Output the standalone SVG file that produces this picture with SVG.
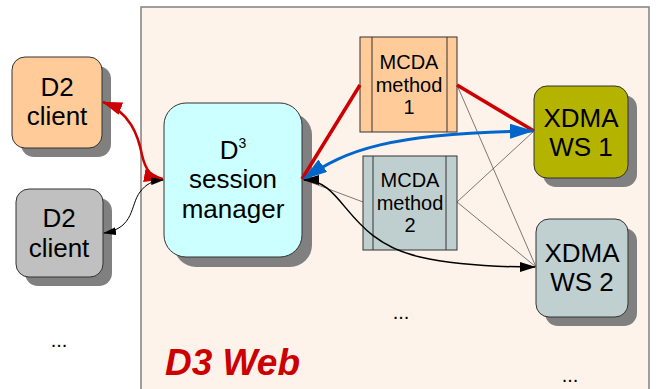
<svg xmlns="http://www.w3.org/2000/svg" width="667" height="389" viewBox="0 0 667 389">
<defs>
<style>
text{font-family:"Liberation Sans",Arial,sans-serif;fill:#000}
.t{font-size:26px;text-anchor:middle}
.m{font-size:20px;text-anchor:middle}
.shadow{fill:#808080;stroke:none}
.box{stroke:#333;stroke-width:1}
.thin{fill:none;stroke:#444;stroke-width:0.7}
</style>
<marker id="ar" viewBox="0 0 20 13" refX="19" refY="6.5" markerWidth="20" markerHeight="13" orient="auto-start-reverse" markerUnits="userSpaceOnUse"><path d="M0,0 L20,6.5 L0,13 z" fill="#cc0000"/></marker>
<marker id="ab" viewBox="0 0 24 15" refX="23" refY="7.5" markerWidth="24" markerHeight="15" orient="auto-start-reverse" markerUnits="userSpaceOnUse"><path d="M0,0 L24,7.5 L0,15 z" fill="#0066cc"/></marker>
<marker id="ak" viewBox="0 0 13 8" refX="12" refY="4" markerWidth="13" markerHeight="8" orient="auto-start-reverse" markerUnits="userSpaceOnUse"><path d="M0,0 L13,4 L0,8 z" fill="#000"/></marker>
<marker id="ak2" viewBox="0 0 16 10" refX="15" refY="5" markerWidth="16" markerHeight="10" orient="auto-start-reverse" markerUnits="userSpaceOnUse"><path d="M0,0 L16,5 L0,10 z" fill="#000"/></marker>
</defs>
<rect x="0" y="0" width="667" height="389" fill="#fff"/>
<g id="d3web">
<rect x="141" y="7" width="508" height="390" fill="#fef3ea" stroke="#808080" stroke-width="1.5"/>
<text x="165" y="375" style="font-size:37px;font-weight:bold;font-style:italic;fill:#cc0000">D3 Web</text>
</g>
<g id="d2client1">
<rect class="shadow" x="21" y="66" width="90" height="91" rx="13"/>
<rect class="box" x="12" y="57" width="90" height="91" rx="13" fill="#ffcc99"/>
<text class="t" x="57" y="96">D2</text>
<text class="t" x="57" y="125">client</text>
</g>
<g id="d2client2">
<rect class="shadow" x="25" y="198" width="87" height="88" rx="13"/>
<rect class="box" x="16" y="189" width="87" height="88" rx="13" fill="#c0c0c0"/>
<text class="t" x="59" y="227">D2</text>
<text class="t" x="59" y="257">client</text>
</g>
<g id="sessionmanager">
<rect class="shadow" x="174" y="113" width="138" height="154" rx="22"/>
<rect class="box" x="164" y="103" width="138" height="154" rx="22" fill="#ccffff"/>
<text class="t" x="233" y="159">D<tspan dy="-11" style="font-size:14px">3</tspan></text>
<text class="t" x="233" y="188">session</text>
<text class="t" x="233" y="218">manager</text>
</g>
<g id="mcda1">
<rect class="box" x="360" y="37" width="97" height="95" fill="#ffcc99"/>
<line class="box" x1="372" y1="37" x2="372" y2="132"/>
<line class="box" x1="447" y1="37" x2="447" y2="132"/>
<text class="m" x="409" y="69">MCDA</text>
<text class="m" x="409" y="92">method</text>
<text class="m" x="409" y="114">1</text>
</g>
<g id="mcda2">
<rect class="box" x="363" y="156" width="94" height="94" fill="#bfcfcf"/>
<line class="box" x1="373" y1="156" x2="373" y2="250"/>
<line class="box" x1="446" y1="156" x2="446" y2="250"/>
<text class="m" x="410" y="187">MCDA</text>
<text class="m" x="410" y="210">method</text>
<text class="m" x="410" y="232">2</text>
</g>
<g id="xdma1">
<rect class="shadow" x="543" y="95" width="94" height="92" rx="13"/>
<rect class="box" x="534" y="86" width="94" height="92" rx="13" fill="#b3b300"/>
<text class="t" x="581" y="127">XDMA</text>
<text class="t" x="581" y="156">WS 1</text>
</g>
<g id="xdma2">
<rect class="shadow" x="545" y="228" width="92" height="98" rx="13"/>
<rect class="box" x="536" y="219" width="92" height="98" rx="13" fill="#c0cfd0"/>
<text class="t" x="582" y="262">XDMA</text>
<text class="t" x="582" y="291">WS 2</text>
</g>
<g id="connectors">
<path class="thin" d="M302,179 L363,202"/>
<path class="thin" d="M457,85 L536,267"/>
<path class="thin" d="M457,202 L534,131"/>
<path class="thin" d="M457,202 L536,267"/>
<path d="M302,179 L360,85" fill="none" stroke="#cc0000" stroke-width="3.5"/>
<path d="M457,85 L534,131" fill="none" stroke="#cc0000" stroke-width="3.5"/>
<path d="M103,102 C130,112 138,135 142,155 C146,172 152,177 163,179" fill="none" stroke="#cc0000" stroke-width="2.5" marker-start="url(#ar)" marker-end="url(#ar)"/>
<path d="M104,233 C135,228 130,205 140,192 C146,184 152,181 163,180" fill="none" stroke="#000" stroke-width="1" marker-start="url(#ak)" marker-end="url(#ak)"/>
<path d="M304,179 C345,150 390,133 533,131" fill="none" stroke="#0066cc" stroke-width="3" marker-start="url(#ab)" marker-end="url(#ab)"/>
<path d="M304,180 C345,180 345,240 420,257 C460,266 500,267 535,267" fill="none" stroke="#000" stroke-width="1.5" marker-start="url(#ak2)" marker-end="url(#ak2)"/>
</g>
<g id="ellipses">
<text x="59" y="347" style="font-size:20px;text-anchor:middle">...</text>
<text x="401" y="319" style="font-size:20px;text-anchor:middle">...</text>
<text x="570" y="382" style="font-size:20px;text-anchor:middle">...</text>
</g>
</svg>
